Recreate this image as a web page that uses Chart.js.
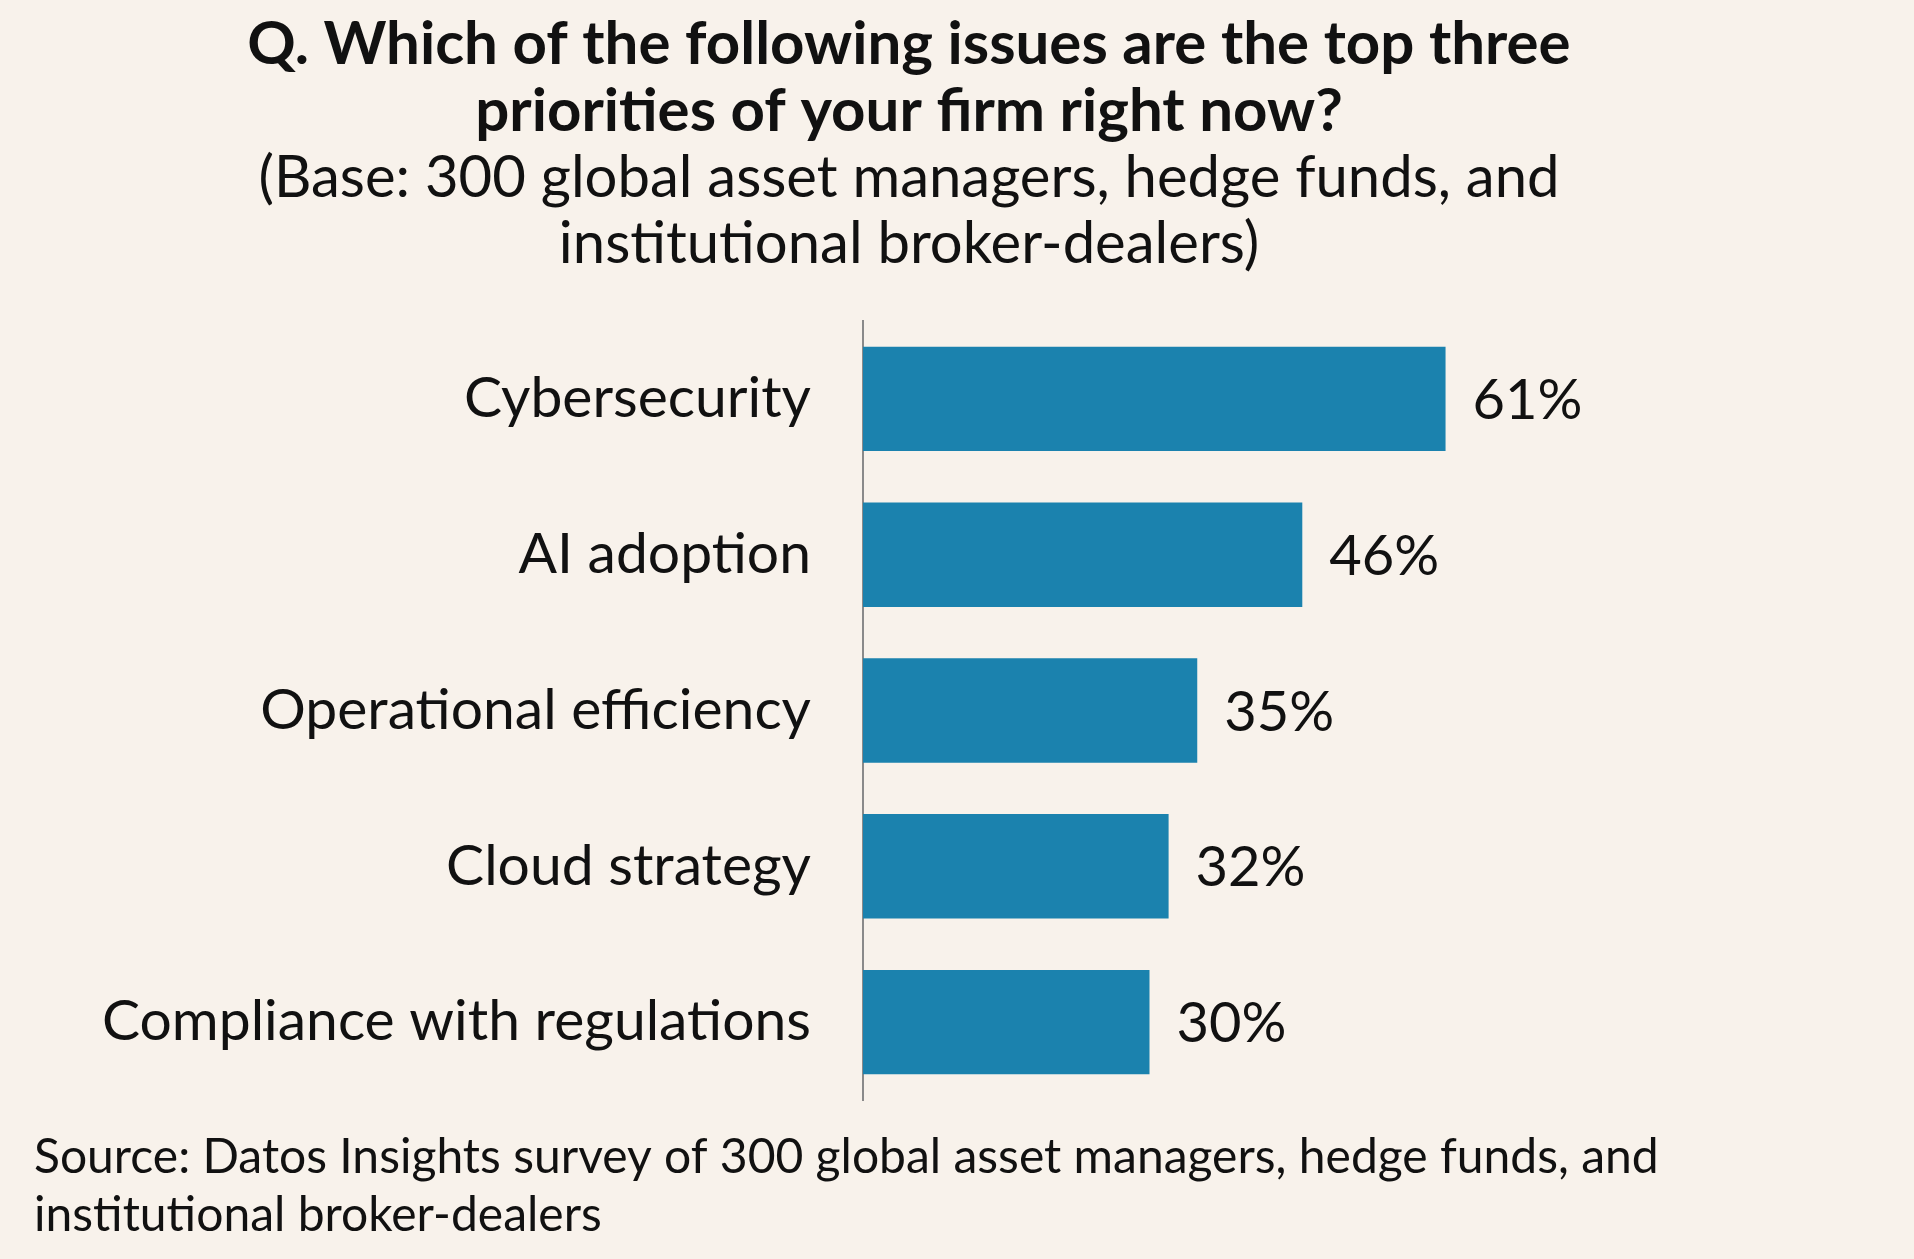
<!DOCTYPE html>
<html>
<head>
<meta charset="utf-8">
<script src="https://cdn.jsdelivr.net/npm/chart.js@4"></script>
<style>
  html, body { margin: 0; padding: 0; background: #f8f2eb; }
  #wrap { width: 1914px; height: 1259px; }
</style>
</head>
<body>
<div id="wrap"><canvas id="prioChart"></canvas></div>
<script>
// данные с картинки
const categories = ['Cybersecurity', 'AI adoption', 'Operational efficiency', 'Cloud strategy', 'Compliance with regulations'];
const shares = [61, 46, 35, 32, 30];
const titleLines = ['Q. Which of the following issues are the top three', 'priorities of your firm right now?'];
const subtitleLines = ['(Base: 300 global asset managers, hedge funds, and', 'institutional broker-dealers)'];
const sourceLines = ['Source: Datos Insights survey of 300 global asset managers, hedge funds, and', 'institutional broker-dealers'];

const FONT = 'Lato, "Noto Sans", sans-serif';

// подписи значений справа от столбиков + источник внизу
const labelsPlugin = {
    id: 'labelsPlugin',
    afterDatasetsDraw(chart) {
        const ctx = chart.ctx;
        const meta = chart.getDatasetMeta(0);
        ctx.save();
        ctx.fillStyle = '#111';
        ctx.font = '56px ' + FONT;
        ctx.textAlign = 'left';
        ctx.textBaseline = 'middle';
        meta.data.forEach((bar, i) => {
            ctx.fillText(shares[i] + '%', bar.x + 27, bar.y + 2);
        });
        ctx.font = '48px ' + FONT;
        sourceLines.forEach((line, i) => {
            ctx.fillText(line, 34, 1158 + i * 58);
        });
        ctx.restore();
    }
};

const ctx = document.getElementById('prioChart').getContext('2d');
const myChart = new Chart(ctx, {
    type: 'bar',
    data: {
        labels: categories,
        datasets: [{
            data: shares,
            backgroundColor: '#1b82ae',
            borderWidth: 0,
            barPercentage: 0.67,
            categoryPercentage: 1
        }]
    },
    options: {
        indexAxis: 'y',
        responsive: true,
        maintainAspectRatio: false,
        animation: false,
        layout: { padding: { left: 0, right: 96, bottom: 159 } },
        scales: {
            x: {
                display: false,
                min: 0,
                max: 100
            },
            y: {
                grid: { display: false, drawTicks: false },
                border: { display: true, color: '#8a8a8a', width: 2 },
                ticks: {
                    color: '#111',
                    padding: 52,
                    font: { family: FONT, size: 57 }
                },
                afterFit(axis) { axis.width = 863; }
            }
        },
        plugins: {
            legend: { display: false },
            tooltip: { enabled: false },
            title: {
                display: true,
                text: titleLines,
                color: '#111',
                font: { family: FONT, size: 60, weight: 'bold', lineHeight: 67 / 60 },
                padding: { top: 11, bottom: 0 }
            },
            subtitle: {
                display: true,
                text: subtitleLines,
                color: '#111',
                font: { family: FONT, size: 58, lineHeight: 66 / 58 },
                padding: { top: 0, bottom: 44 }
            }
        }
    },
    plugins: [labelsPlugin]
});
</script>
</body>
</html>
